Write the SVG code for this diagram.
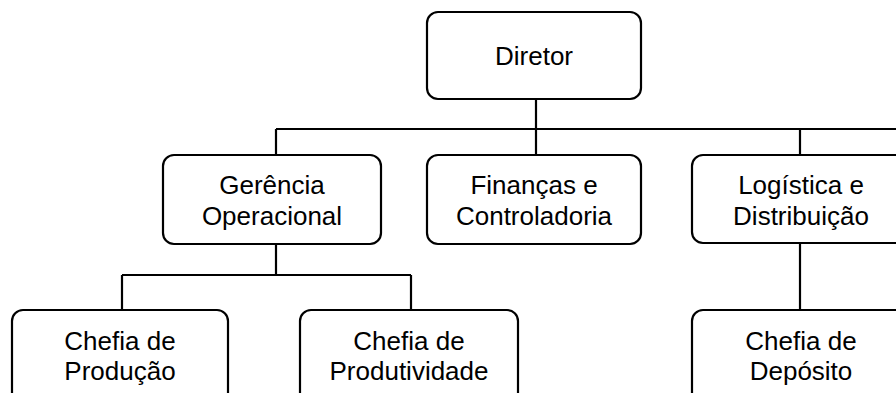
<svg xmlns="http://www.w3.org/2000/svg" width="896" height="393" viewBox="0 0 896 393">
<style>
.box{fill:#fff;stroke:#000;stroke-width:2.2}
.t{font-family:"Liberation Sans",Arial,sans-serif;font-size:26px;fill:#000;text-anchor:middle}
.c{fill:none;stroke:#000;stroke-width:2.2}
</style>
<rect width="896" height="393" fill="#fff"/>
<g id="connectors">
<path class="c" d="M536 99V129M276 129H896M276 129V155M536 129V155M800 129V155"/>
<path class="c" d="M276 244V275M122 275H411M122 275V310M411 275V310"/>
<path class="c" d="M800 243V310"/>
</g>
<g id="diretor"><rect class="box" x="427" y="12" width="214" height="87" rx="11"/><text class="t" x="534" y="65">Diretor</text></g>
<g id="gerencia"><rect class="box" x="163" y="155" width="218" height="89" rx="11"/><text class="t" x="272" y="194">Gerência</text><text class="t" x="272" y="225">Operacional</text></g>
<g id="financas"><rect class="box" x="427" y="155" width="214" height="89" rx="11"/><text class="t" x="534" y="194">Finanças e</text><text class="t" x="534" y="225">Controladoria</text></g>
<g id="logistica"><rect class="box" x="692" y="155" width="218" height="88" rx="11"/><text class="t" x="801" y="194">Logística e</text><text class="t" x="801" y="225">Distribuição</text></g>
<g id="producao"><rect class="box" x="12" y="310" width="216" height="95" rx="11"/><text class="t" x="120" y="350">Chefia de</text><text class="t" x="120" y="380">Produção</text></g>
<g id="produtividade"><rect class="box" x="300" y="310" width="218" height="95" rx="11"/><text class="t" x="409" y="350">Chefia de</text><text class="t" x="409" y="380">Produtividade</text></g>
<g id="deposito"><rect class="box" x="692" y="310" width="218" height="95" rx="11"/><text class="t" x="801" y="350">Chefia de</text><text class="t" x="801" y="380">Depósito</text></g>
</svg>
